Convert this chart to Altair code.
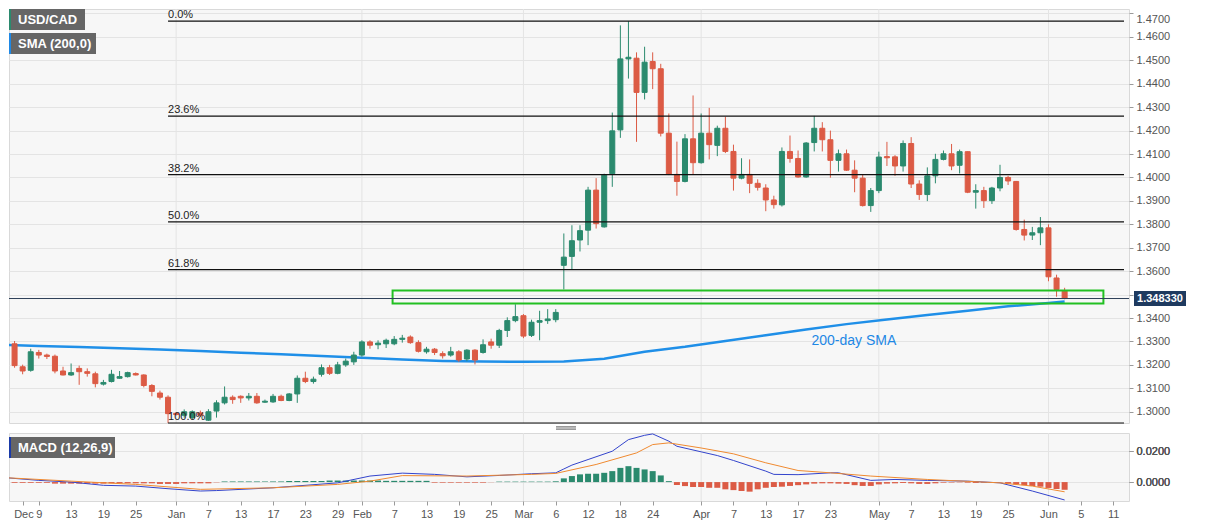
import altair as alt
import pandas as pd
import numpy as np

FONT = "Liberation Sans"
GREEN = "#2b8a6e"
RED = "#dc5b45"

# trading-day axis: index 0 = Mon 2019-12-02, weekdays only
DAYS = pd.bdate_range("2019-12-02", "2020-06-12")
FIRST = 2  # first candle index (2019-12-04)

opens = [1.3290, 1.3192, 1.3177, 1.3253, 1.3242, 1.3237, 1.3174, 1.3157, 1.3185, 1.3171,
         1.3162, 1.3118, 1.3129, 1.3143, 1.3150, 1.3163, 1.3157, 1.3112, 1.3080, 1.3062,
         1.2993, 1.2985, 1.2975, 1.2995, 1.2964, 1.3003, 1.3038, 1.3062, 1.3066, 1.3059,
         1.3066, 1.3041, 1.3042, 1.3066, 1.3048, 1.3076, 1.3143, 1.3129, 1.3160, 1.3188,
         1.3164, 1.3200, 1.3213, 1.3242, 1.3298, 1.3286, 1.3290, 1.3290, 1.3309, 1.3319,
         1.3295, 1.3256, 1.3267, 1.3248, 1.3242, 1.3256, 1.3225, 1.3263, 1.3253, 1.3298,
         1.3284, 1.3347, 1.3389, 1.3410, 1.3326, 1.3382, 1.3389, 1.3393, 1.3625, 1.3663,
         1.3733, 1.3775, 1.3946, 1.3789, 1.4016, 1.4203, 1.4506, 1.4509, 1.4363, 1.4495,
         1.4464, 1.4189, 1.4013, 1.3983, 1.4165, 1.4063, 1.4189, 1.4137, 1.4210, 1.4111,
         1.3997, 1.4013, 1.3975, 1.3955, 1.3904, 1.3883, 1.4111, 1.4081, 1.4002, 1.4149,
         1.4210, 1.4161, 1.4073, 1.4101, 1.4031, 1.3997, 1.3880, 1.3944, 1.4089, 1.4088,
         1.4049, 1.4145, 1.3972, 1.3927, 1.4007, 1.4077, 1.4101, 1.4052, 1.4110, 1.3937,
         1.3944, 1.3901, 1.3955, 1.4000, 1.3983, 1.3778, 1.3754, 1.3764, 1.3785, 1.3571,
         1.3515]
highs = [1.3302, 1.3201, 1.3269, 1.3264, 1.3248, 1.3244, 1.3192, 1.3206, 1.3197, 1.3185,
         1.3171, 1.3136, 1.3179, 1.3174, 1.3171, 1.3168, 1.3160, 1.3118, 1.3090, 1.3070,
         1.2998, 1.3010, 1.3006, 1.3005, 1.3011, 1.3049, 1.3108, 1.3070, 1.3070, 1.3080,
         1.3080, 1.3052, 1.3076, 1.3073, 1.3080, 1.3155, 1.3171, 1.3150, 1.3202, 1.3200,
         1.3213, 1.3227, 1.3256, 1.3305, 1.3305, 1.3305, 1.3312, 1.3323, 1.3328, 1.3326,
         1.3305, 1.3277, 1.3272, 1.3258, 1.3277, 1.3263, 1.3267, 1.3267, 1.3309, 1.3312,
         1.3354, 1.3403, 1.3459, 1.3417, 1.3393, 1.3431, 1.3438, 1.3438, 1.3761, 1.3796,
         1.3796, 1.3960, 1.3997, 1.4016, 1.4277, 1.4649, 1.4667, 1.4534, 1.4558, 1.4534,
         1.4485, 1.4273, 1.4153, 1.4185, 1.4350, 1.4273, 1.4297, 1.4221, 1.4259, 1.4140,
         1.4082, 1.4077, 1.3992, 1.3971, 1.3922, 1.4128, 1.4179, 1.4115, 1.4151, 1.4263,
         1.4236, 1.4200, 1.4119, 1.4119, 1.4073, 1.4013, 1.3955, 1.4110, 1.4152, 1.4095,
         1.4158, 1.4172, 1.3988, 1.4043, 1.4101, 1.4115, 1.4143, 1.4119, 1.4111, 1.3971,
         1.3960, 1.3960, 1.4054, 1.4007, 1.3985, 1.3820, 1.3789, 1.3831, 1.3800, 1.3585,
         1.3529]
lows = [1.3188, 1.3160, 1.3171, 1.3227, 1.3225, 1.3164, 1.3155, 1.3153, 1.3115, 1.3150,
        1.3104, 1.3112, 1.3125, 1.3141, 1.3146, 1.3155, 1.3104, 1.3066, 1.3052, 1.2952,
        1.2984, 1.2975, 1.2968, 1.2978, 1.2961, 1.2975, 1.3031, 1.3034, 1.3038, 1.3048,
        1.3034, 1.3038, 1.3038, 1.3045, 1.3045, 1.3038, 1.3122, 1.3120, 1.3150, 1.3157,
        1.3160, 1.3192, 1.3200, 1.3235, 1.3269, 1.3267, 1.3272, 1.3284, 1.3295, 1.3290,
        1.3253, 1.3248, 1.3242, 1.3227, 1.3235, 1.3213, 1.3216, 1.3202, 1.3248, 1.3269,
        1.3272, 1.3319, 1.3382, 1.3314, 1.3319, 1.3305, 1.3375, 1.3382, 1.3522, 1.3606,
        1.3684, 1.3711, 1.3782, 1.3786, 1.3960, 1.4169, 1.4422, 1.4152, 1.4333, 1.4377,
        1.4175, 1.4010, 1.3922, 1.3979, 1.4013, 1.4059, 1.4077, 1.4091, 1.4104, 1.3944,
        1.3992, 1.3933, 1.3944, 1.3856, 1.3867, 1.3876, 1.4063, 1.3999, 1.3999, 1.4111,
        1.4111, 1.3999, 1.4025, 1.4028, 1.3937, 1.3876, 1.3853, 1.3933, 1.4049, 1.4007,
        1.4025, 1.3955, 1.3904, 1.3899, 1.3975, 1.4073, 1.4031, 1.4017, 1.3933, 1.3867,
        1.3870, 1.3887, 1.3941, 1.3968, 1.3773, 1.3731, 1.3733, 1.3711, 1.3557, 1.3491,
        1.3480]
closes = [1.3197, 1.3174, 1.3256, 1.3242, 1.3236, 1.3174, 1.3157, 1.3167, 1.3171, 1.3164,
          1.3120, 1.3125, 1.3160, 1.3150, 1.3167, 1.3157, 1.3112, 1.3087, 1.3062, 1.2992,
          1.2988, 1.3000, 1.3000, 1.2985, 1.3000, 1.3038, 1.3062, 1.3052, 1.3059, 1.3066,
          1.3038, 1.3045, 1.3066, 1.3048, 1.3076, 1.3143, 1.3129, 1.3139, 1.3188, 1.3164,
          1.3200, 1.3216, 1.3242, 1.3298, 1.3284, 1.3293, 1.3305, 1.3309, 1.3314, 1.3295,
          1.3258, 1.3267, 1.3253, 1.3239, 1.3256, 1.3221, 1.3263, 1.3221, 1.3286, 1.3284,
          1.3347, 1.3389, 1.3406, 1.3323, 1.3382, 1.3389, 1.3396, 1.3424, 1.3660, 1.3730,
          1.3773, 1.3946, 1.3803, 1.4010, 1.4199, 1.4506, 1.4513, 1.4363, 1.4492, 1.4464,
          1.4189, 1.4013, 1.3983, 1.4165, 1.4063, 1.4189, 1.4140, 1.4210, 1.4111, 1.3997,
          1.4013, 1.3975, 1.3958, 1.3904, 1.3884, 1.4111, 1.4081, 1.4002, 1.4147, 1.4210,
          1.4161, 1.4073, 1.4101, 1.4031, 1.3997, 1.3880, 1.3944, 1.4087, 1.4084, 1.4049,
          1.4145, 1.3972, 1.3927, 1.4007, 1.4077, 1.4101, 1.4049, 1.4110, 1.3937, 1.3944,
          1.3901, 1.3955, 1.4000, 1.3985, 1.3778, 1.3754, 1.3764, 1.3785, 1.3576, 1.3522,
          1.34833]

# 200-day SMA (read every 5 trading days)
sma_idx = [0, 5, 10, 15, 20, 25, 30, 35, 40, 45, 50, 55, 60, 65, 70, 75, 80, 85, 90,
           95, 100, 105, 110, 115, 120, 125, 130, 132]
sma_val = [1.3286, 1.3281, 1.3276, 1.3271, 1.3266, 1.3259, 1.3252, 1.3245, 1.3238, 1.3231,
           1.3223, 1.3217, 1.3214, 1.3213, 1.3214, 1.3226, 1.3256, 1.3277, 1.3302, 1.3327,
           1.3351, 1.3374, 1.3394, 1.3413, 1.3431, 1.3450, 1.3464, 1.3471]

# MACD (12,26,9)
macd_idx = [1, 5, 9, 13, 17, 21, 25, 27, 34, 42, 46, 50, 54, 58, 62, 66, 69, 70, 71, 73,
            76, 78, 80, 81, 83, 84, 87, 89, 91, 95, 96, 99, 103, 104, 108, 111, 115, 120,
            124, 128, 132]
macd_val = [0.0028, 0.0011, 0.0000, -0.0021, -0.0026, -0.0043, -0.0058, -0.0055, -0.0037,
            -0.0005, 0.0039, 0.0058, 0.0050, 0.0034, 0.0043, 0.0054, 0.0060, 0.0085, 0.0110,
            0.0146, 0.0200, 0.0275, 0.0303, 0.0312, 0.0265, 0.0232, 0.0196, 0.0172, 0.0140,
            0.0071, 0.0050, 0.0048, 0.0060, 0.0060, 0.0011, 0.0017, 0.0011, 0.0006, -0.0005,
            -0.0058, -0.0116]
signal_idx = [1, 9, 17, 25, 34, 42, 46, 50, 58, 66, 69, 74, 79, 81, 83, 87, 91, 95, 99,
              103, 108, 115, 124, 128, 132]
signal_val = [0.0028, 0.0006, -0.0015, -0.0047, -0.0037, -0.0015, 0.0006, 0.0042, 0.0039,
              0.0050, 0.0056, 0.0114, 0.0189, 0.0243, 0.0254, 0.0221, 0.0183, 0.0125, 0.0075,
              0.0060, 0.0039, 0.0017, -0.0005, -0.0026, -0.0063]
hist_val = [-0.0005, -0.0005, -0.0005, -0.0005, -0.0005,
            -0.0010, -0.0010, -0.0010, -0.0010, -0.0010, -0.0010, -0.0010,
            -0.0008, -0.0008, -0.0008, -0.0008, -0.0008, -0.0008,
            -0.0012, -0.0012, -0.0012,
            -0.0008, -0.0008, -0.0008, -0.0008,
            -0.0002,
            0.0004, 0.0004, 0.0004, 0.0004, 0.0004, 0.0004, 0.0004, 0.0004,
            0.0007, 0.0007, 0.0007, 0.0007, 0.0007,
            0.0010, 0.0010, 0.0010, 0.0010, 0.0010, 0.0010, 0.0010,
            0.0008, 0.0008, 0.0008, 0.0008, 0.0008, 0.0008,
            -0.0004, -0.0004, -0.0004, -0.0004, -0.0004, -0.0004, -0.0004,
            -0.0001,
            0.0003, 0.0003, 0.0003, 0.0003, 0.0003, 0.0003, 0.0003,
            0.0005,
            0.0024, 0.0039, 0.0050, 0.0054, 0.0054, 0.0060, 0.0071, 0.0092, 0.0103, 0.0092,
            0.0082, 0.0071, 0.0043, 0.0006,
            -0.0019, -0.0026, -0.0032, -0.0032, -0.0037, -0.0037, -0.0047, -0.0052, -0.0058,
            -0.0062, -0.0047, -0.0037, -0.0032,
            -0.0030, -0.0025, -0.0020, -0.0015, -0.0010, -0.0008, -0.0008, -0.0010, -0.0012,
            -0.0020, -0.0025, -0.0025, -0.0015, -0.0010, -0.0008, -0.0006, -0.0008, -0.0012,
            -0.0012, -0.0008, -0.0004, -0.0003, -0.0002, -0.0004, -0.0006, -0.0004, -0.0003,
            -0.0002, -0.0010, -0.0015, -0.0020, -0.0025, -0.0030, -0.0038, -0.0045, -0.0050]

fib_labels = ["0.0%", "23.6%", "38.2%", "50.0%", "61.8%", "100.0%"]
fib_levels = [1.4667, 1.4262, 1.4012, 1.3810, 1.3607, 1.2952]
fib_start = 21  # 2019-12-31 low

zone_top, zone_bottom = 1.3517, 1.3462
zone_start, zone_end = 48.8, 136.8
last_price = 1.34833

month_idx = [22, 45, 65, 87, 109, 130]
xtick_vals = [3.1, 5, 9, 13, 17, 22, 26, 30, 34, 38, 42, 45, 49, 53, 57, 61, 65, 69, 73,
              77, 81, 87, 91, 95, 99, 103, 109, 113, 117, 121, 125, 130, 134, 138]
xtick_labels = ["Dec", "9", "13", "19", "25", "Jan", "7", "13", "17", "23", "29", "Feb",
                "7", "13", "19", "25", "Mar", "6", "12", "18", "24", "Apr", "7", "13", "17",
                "23", "May", "7", "13", "19", "25", "Jun", "5", "11"]
price_ticks = [round(1.30 + 0.01 * k, 2) for k in range(18)]
macd_ticks = [0.0, 0.02]

# ---------------- data frames ----------------
n = len(opens)
assert len(highs) == n and len(lows) == n and len(closes) == n and len(hist_val) == n
idx = list(range(FIRST, FIRST + n))
candles = pd.DataFrame({"i": idx, "date": DAYS[idx].strftime("%Y-%m-%d"),
                        "open": opens, "high": highs, "low": lows, "close": closes})
candles["dir"] = np.where(candles["close"] >= candles["open"], "up", "down")
sma = pd.DataFrame({"i": sma_idx, "v": sma_val})
macd = pd.DataFrame({"i": macd_idx, "v": macd_val})
signal = pd.DataFrame({"i": signal_idx, "v": signal_val})
hist = pd.DataFrame({"i": idx, "h": hist_val, "base": 0.0})
hist["dir"] = np.where(hist["h"] >= 0, "pos", "neg")
fib = pd.DataFrame({"label": fib_labels, "level": fib_levels,
                    "start": fib_start, "end": 139.35})
zone = pd.DataFrame({"x": [zone_start], "x2": [zone_end], "y": [zone_top], "y2": [zone_bottom]})
last = pd.DataFrame({"p": [last_price], "t": [f"{last_price:.6f}"]})
months = pd.DataFrame({"i": month_idx})
sma_lab = pd.DataFrame({"i": [105.9], "p": [1.3303], "t": ["200-day SMA"]})

W, H1, H2 = 1120, 414, 68
xsc = alt.Scale(domain=[1.93, 139.35], nice=False, zero=False)
ysc = alt.Scale(domain=[1.2952, 1.4719], nice=False, zero=False)
msc = alt.Scale(domain=[-0.01226, 0.0318], nice=False, zero=False)
csc = alt.Scale(domain=["up", "down"], range=[GREEN, RED])
hsc = alt.Scale(domain=["pos", "neg"], range=["#00dd00", "#ee1111"])

yax = alt.Axis(orient="right", values=price_ticks, title=None, grid=True,
               labelExpr="datum.value == 1.35 ? '' : format(datum.value, '.4f')",
               gridColor="#e4e4e4", tickColor="#9a9a9a", tickSize=4, labelColor="#555555",
               labelFontSize=11, labelFont=FONT, domain=False, labelPadding=3,
               labelFlush=6)
label_expr = " : ".join(f"datum.value == {v} ? '{l}'" for v, l in zip(xtick_vals, xtick_labels)) + " : ''"
xax = alt.Axis(values=xtick_vals, labelExpr=label_expr, title=None, grid=False,
               tickColor="#9a9a9a", tickSize=4, labelColor="#555555", labelFontSize=11,
               labelFont=FONT, domain=False, labelPadding=3, labelFlush=False)
max_ = alt.Axis(orient="right", values=macd_ticks, format=".4f", title=None, grid=True,
                gridColor="#e4e4e4", tickColor="#9a9a9a", tickSize=4, labelColor="#555555",
                labelFontSize=11, labelFont=FONT, domain=False, labelPadding=3)


def PX(f):
    return alt.X(f, type="quantitative", scale=xsc, axis=None)


def PY(f):
    return alt.Y(f, type="quantitative", scale=ysc, axis=yax)


one = pd.DataFrame({"a": [0]})

month_rules = alt.Chart(months).mark_rule(color="#e4e4e4").encode(x=PX("i"))
sma_line = alt.Chart(sma).mark_line(color="#1f8fe8", strokeWidth=2.5, clip=True).encode(
    x=PX("i"), y=PY("v"))
wicks = alt.Chart(candles).mark_rule(strokeWidth=1, clip=True).encode(
    x=PX("i"), y=PY("low"), y2="high",
    color=alt.Color("dir:N", scale=csc, legend=None))
bodies = alt.Chart(candles).mark_bar(size=5, strokeWidth=1, clip=True).encode(
    x=PX("i"), y=PY("open"), y2="close",
    color=alt.Color("dir:N", scale=csc, legend=None),
    stroke=alt.Stroke("dir:N", scale=csc, legend=None))
fib_rules = alt.Chart(fib).mark_rule(color="#111111", strokeWidth=1.2).encode(
    x=PX("start"), x2="end", y=PY("level"))
fib_text = alt.Chart(fib).mark_text(align="left", baseline="bottom", dy=-1, fontSize=11,
                                    font=FONT, color="#222222").encode(
    x=PX("start"), y=PY("level"), text="label")
zone_rect = alt.Chart(zone).mark_rect(fillOpacity=0, stroke="#22c022", strokeWidth=2).encode(
    x=PX("x"), x2="x2", y=PY("y"), y2="y2")
last_rule = alt.Chart(last).mark_rule(color="#2c3e57", strokeWidth=1).encode(y=PY("p"))
last_box = alt.Chart(last).mark_rule(color="#1e3a5f", strokeWidth=15).encode(
    x=alt.value(W + 5), x2=alt.value(W + 57), y=PY("p"))
last_text = alt.Chart(last).mark_text(color="white", fontWeight="bold", fontSize=11,
                                      font=FONT).encode(
    x=alt.value(W + 31), y=PY("p"), text="t")
sma_text = alt.Chart(sma_lab).mark_text(color="#1e88e5", fontSize=14, font=FONT).encode(
    x=PX("i"), y=PY("p"), text="t")


def tag(text, y0, w, stripe):
    box = alt.Chart(one).mark_rect(color="#666666").encode(
        x=alt.value(0), x2=alt.value(w), y=alt.value(y0), y2=alt.value(y0 + 21))
    st = alt.Chart(one).mark_rect(color=stripe).encode(
        x=alt.value(0), x2=alt.value(2), y=alt.value(y0), y2=alt.value(y0 + 21))
    tx = alt.Chart(one).mark_text(text=text, color="white", fontWeight="bold", fontSize=13,
                                  font=FONT, align="left", baseline="middle").encode(
        x=alt.value(9), y=alt.value(y0 + 11))
    return box + st + tx


price = alt.layer(
    month_rules, sma_line, wicks, bodies, fib_rules, fib_text, zone_rect, last_rule,
    last_box, last_text, sma_text,
    tag("USD/CAD", 0, 76, GREEN), tag("SMA (200,0)", 24, 87, "#1e88e5"),
).properties(width=W, height=H1)


def MX(f):
    return alt.X(f, type="quantitative", scale=xsc, axis=xax)


def MY(f):
    return alt.Y(f, type="quantitative", scale=msc, axis=max_)


m_rules = alt.Chart(months).mark_rule(color="#e4e4e4").encode(x=MX("i"))
h_bars = alt.Chart(hist).mark_bar(size=6, clip=True).encode(
    x=MX("i"), y=MY("h"), y2="base", color=alt.Color("dir:N", scale=hsc, legend=None))
m_line = alt.Chart(macd).mark_line(color="#3344cc", strokeWidth=1, clip=True).encode(
    x=MX("i"), y=MY("v"))
s_line = alt.Chart(signal).mark_line(color="#f08a30", strokeWidth=1, clip=True).encode(
    x=MX("i"), y=MY("v"))

# panel splitter handle (three short grey strokes between the panels)
splitter = pd.DataFrame({"k": [0, 1, 2]})
handle = alt.Chart(splitter).mark_rule(color="#888888", strokeWidth=1).encode(
    x=alt.value(547), x2=alt.value(567),
    y=alt.Y("k:O", scale=alt.Scale(range=[-7, -3]), axis=None))

macd_panel = alt.layer(
    m_rules, h_bars, m_line, s_line, handle, tag("MACD (12,26,9)", 4, 106, "#1a3aa8")
).properties(width=W, height=H2)

chart = alt.vconcat(price, macd_panel, spacing=10, bounds="flush").properties(
    padding=0
).configure_view(fill="#f7f7f7", stroke="#d9d9d9").configure_text(font=FONT)

chart.save("out.html", embed_options={"renderer": "svg", "actions": False})
